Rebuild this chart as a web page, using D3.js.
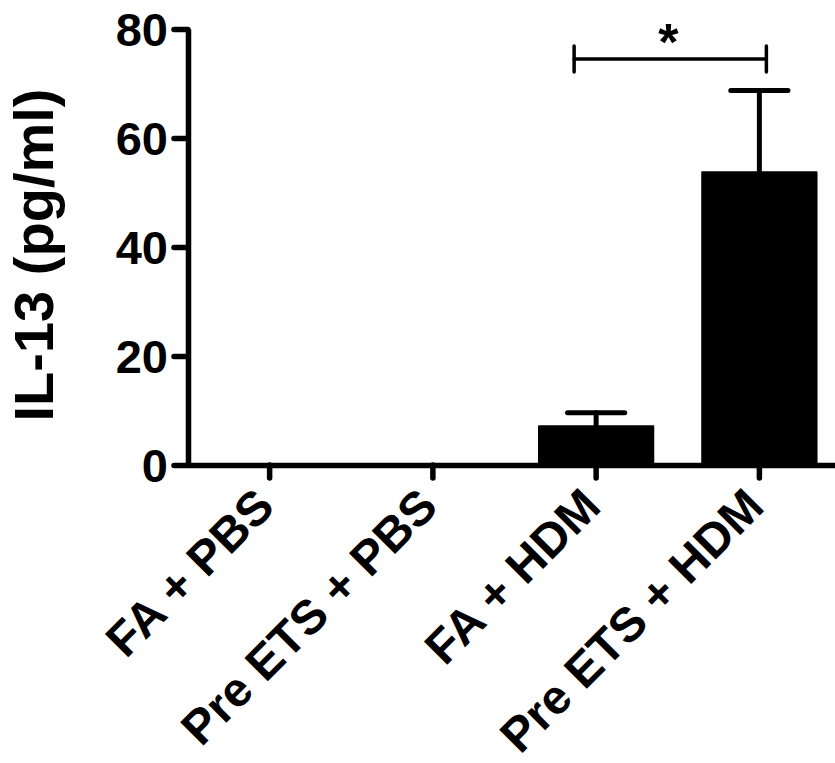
<!DOCTYPE html>
<html>
<head>
<meta charset="utf-8">
<script src="https://d3js.org/d3.v7.min.js"></script>
<style>
  body { margin: 0; background: #fff; }
  svg { font-family: "Liberation Sans", Arial, Helvetica, sans-serif; font-weight: bold; }
</style>
</head>
<body>
<svg width="835" height="763"></svg>
<script>
const categories = ["FA + PBS", "Pre ETS + PBS", "FA + HDM", "Pre ETS + HDM"];
const means = [0, 0, 7.1, 53.7];
const sems = [0, 0, 2.5, 15.0];
const yTicks = [0, 20, 40, 60, 80];
const yLabel = "IL-13 (pg/ml)";
// significance: between group 3 and 4
const sigPair = ["FA + HDM", "Pre ETS + HDM"];
const sigLevel = 74.5;
const sigText = "*";

const data = categories.map((c, i) => ({ cat: c, mean: means[i], sem: sems[i] }));

const svg = d3.select("svg");

const x = d3.scaleBand()
    .domain(categories)
    .range([188, 841])
    .paddingInner(0.3)
    .paddingOuter(0.15);

const y = d3.scaleLinear()
    .domain([0, 80])
    .range([465, 29]);

// bars
svg.selectAll(".bar")
    .data(data)
    .enter()
    .append("rect")
    .attr("class", "bar")
    .attr("x", (d) => x(d.cat))
    .attr("y", (d) => y(d.mean))
    .attr("width", x.bandwidth())
    .attr("height", (d) => y(0) - y(d.mean))
    .attr("fill", "#000")
    .attr("stroke", "#000")
    .attr("stroke-width", 2)
    .attr("stroke-linejoin", "round");

// error bars (upper only)
const eb = svg.selectAll(".err")
    .data(data.filter((d) => d.sem > 0))
    .enter()
    .append("g")
    .attr("class", "err")
    .attr("stroke", "#000")
    .attr("stroke-width", 5)
    .attr("stroke-linecap", "round");

eb.append("line")
    .attr("x1", (d) => x(d.cat) + x.bandwidth() / 2)
    .attr("x2", (d) => x(d.cat) + x.bandwidth() / 2)
    .attr("y1", (d) => y(d.mean))
    .attr("y2", (d) => y(d.mean + d.sem));

eb.append("line")
    .attr("x1", (d) => x(d.cat) + x.bandwidth() / 4)
    .attr("x2", (d) => x(d.cat) + x.bandwidth() * 3 / 4)
    .attr("y1", (d) => y(d.mean + d.sem))
    .attr("y2", (d) => y(d.mean + d.sem));

// y axis
const yAxis = svg.append("g")
    .attr("transform", "translate(188,0)")
    .call(d3.axisLeft(y).tickValues(yTicks).tickSize(14).tickSizeOuter(0).tickPadding(6));

// x axis
const xAxis = svg.append("g")
    .attr("transform", "translate(0,465)")
    .call(d3.axisBottom(x).tickSize(13).tickSizeOuter(0).tickFormat(""));

svg.selectAll(".domain, .tick line")
    .attr("stroke", "#000")
    .attr("stroke-width", 5.5)
    .attr("stroke-linecap", "round");

yAxis.selectAll(".tick text")
    .attr("font-size", 47)
    .attr("font-weight", "bold")
    .attr("font-family", "Liberation Sans, Arial, sans-serif")
    .attr("fill", "#000")
    .attr("dy", "0.36em");

yAxis.select(".domain").attr("stroke-linecap", "butt");
xAxis.select(".domain").attr("stroke-linecap", "butt");

// rotated category labels
svg.selectAll(".xlab")
    .data(categories)
    .enter()
    .append("text")
    .attr("class", "xlab")
    .attr("transform", (d) => `translate(${x(d) + x.bandwidth() / 2 + 7},509) rotate(-45)`)
    .attr("text-anchor", "end")
    .attr("font-size", 48)
    .attr("fill", "#000")
    .text((d) => d);

// y axis title
svg.append("text")
    .attr("transform", "translate(53,255) rotate(-90)")
    .attr("text-anchor", "middle")
    .attr("font-size", 56)
    .attr("fill", "#000")
    .text(yLabel);

// significance bracket
const x1 = x(sigPair[0]) + x.bandwidth() / 2 - 22;
const x2 = x(sigPair[1]) + x.bandwidth() / 2 + 7;
const br = svg.append("g")
    .attr("stroke", "#000")
    .attr("stroke-width", 3.5)
    .attr("stroke-linecap", "round")
    .attr("fill", "none");
br.append("line").attr("x1", x1).attr("x2", x2).attr("y1", y(sigLevel)).attr("y2", y(sigLevel));
br.append("line").attr("x1", x1).attr("x2", x1).attr("y1", y(sigLevel) - 13).attr("y2", y(sigLevel) + 13);
br.append("line").attr("x1", x2).attr("x2", x2).attr("y1", y(sigLevel) - 13).attr("y2", y(sigLevel) + 13);

svg.append("text")
    .attr("x", (x1 + x2) / 2 - 2)
    .attr("y", y(sigLevel) + 1)
    .attr("text-anchor", "middle")
    .attr("font-size", 52)
    .attr("fill", "#000")
    .text(sigText);
</script>
</body>
</html>
